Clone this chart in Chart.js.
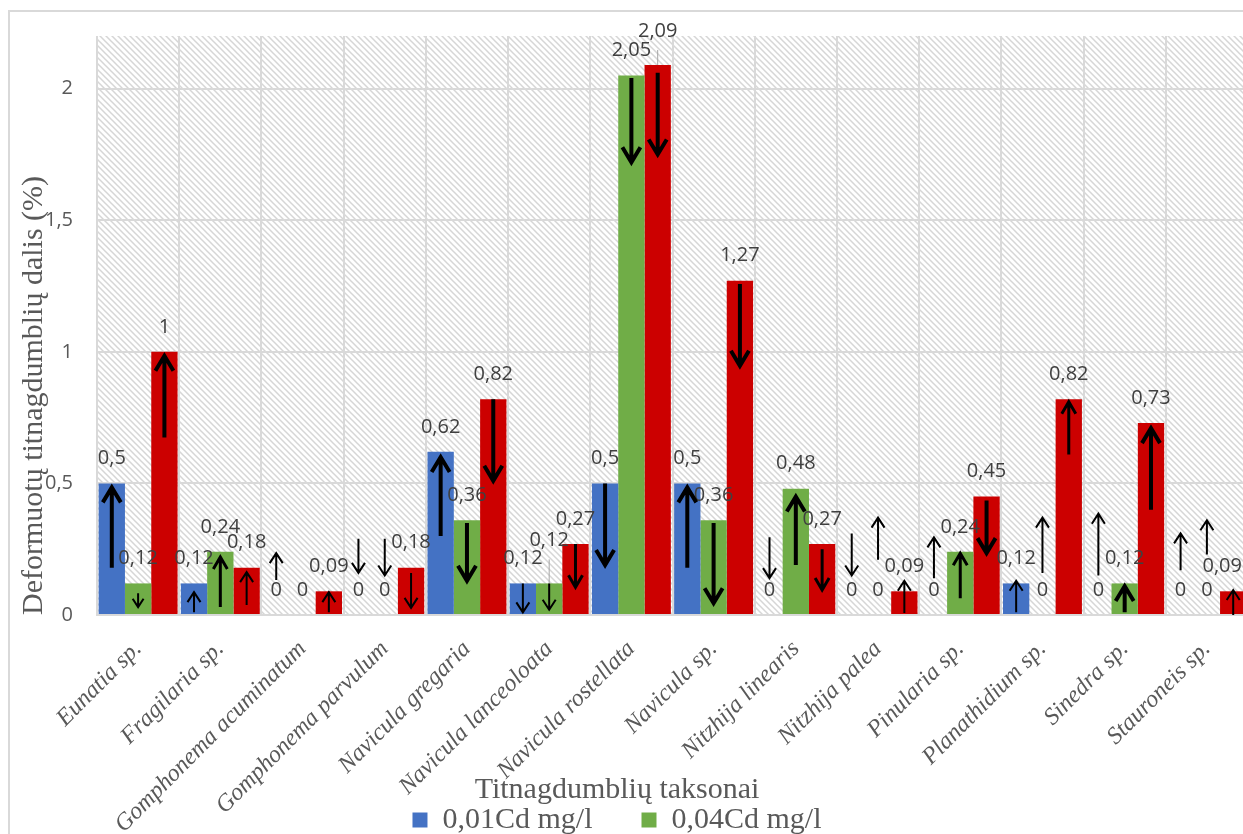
<!DOCTYPE html>
<html>
<head>
<meta charset="utf-8">
<script src="https://cdn.jsdelivr.net/npm/chart.js@4.4.0/dist/chart.umd.min.js"></script>
<style>
  html, body { margin: 0; padding: 0; width: 1243px; height: 834px; overflow: hidden; background: #fff; }
  #frame { position: absolute; left: 8px; top: 10px; width: 1260px; height: 880px; border: 2px solid #d9d9d9; box-sizing: border-box; }
  #wrap { position: absolute; left: -14px; top: 0; width: 1262px; height: 845px; }
</style>
</head>
<body>
<div id="frame"></div>
<div id="wrap"><canvas id="myChart"></canvas></div>
<script>
var taxa = ['Eunatia sp.', 'Fragilaria sp.', 'Gomphonema acuminatum', 'Gomphonema parvulum',
  'Navicula gregaria', 'Navicula lanceoloata', 'Navicula rostellata', 'Navicula sp.',
  'Nitzhija linearis', 'Nitzhija palea', 'Pinularia sp.', 'Planathidium sp.', 'Sinedra sp.', 'Stauroneis sp.'];

// deformed share (%) per Cd concentration
var cd001 = [0.5, 0.12, 0, 0, 0.62, 0.12, 0.5, 0.5, 0, 0, 0, 0.12, 0, 0];
var cd004 = [0.12, 0.24, 0, 0, 0.36, 0.12, 2.05, 0.36, 0.48, 0, 0.24, 0, 0.12, 0];
var cd010 = [1, 0.18, 0.09, 0.18, 0.82, 0.27, 2.09, 1.27, 0.27, 0.09, 0.45, 0.82, 0.73, 0.09];

var yMax = 2.2;
var yStep = 0.5;

// trend arrows: [taxon, series, from, to, weight]
var arrows = [
  [0, 0, 0.18, 0.485, 'L'], [0, 1, 0.083, 0.03, 'S'], [0, 2, 0.674, 0.985, 'L'],
  [1, 0, 0.01, 0.087, 'S'], [1, 1, 0.03, 0.22, 'M'], [1, 2, 0.038, 0.163, 'S'],
  [2, 0, 0.133, 0.235, 'S'], [2, 2, 0.01, 0.087, 'S'],
  [3, 0, 0.29, 0.16, 'S'], [3, 1, 0.29, 0.15, 'S'], [3, 2, 0.16, 0.027, 'S'],
  [4, 0, 0.30, 0.60, 'L'], [4, 1, 0.35, 0.13, 'L'], [4, 2, 0.82, 0.51, 'L'],
  [5, 0, 0.12, 0.01, 'S'], [5, 1, 0.12, 0.02, 'S'], [5, 2, 0.27, 0.105, 'M'],
  [6, 0, 0.5, 0.19, 'L'], [6, 1, 2.04, 1.72, 'L'], [6, 2, 2.06, 1.75, 'L'],
  [7, 0, 0.18, 0.485, 'L'], [7, 1, 0.35, 0.045, 'L'], [7, 2, 1.258, 0.947, 'L'],
  [8, 0, 0.295, 0.14, 'S'], [8, 1, 0.19, 0.45, 'L'], [8, 2, 0.25, 0.095, 'M'],
  [9, 0, 0.31, 0.15, 'S'], [9, 1, 0.21, 0.37, 'S'], [9, 2, 0.008, 0.13, 'S'],
  [10, 0, 0.14, 0.295, 'S'], [10, 1, 0.064, 0.235, 'M'], [10, 2, 0.435, 0.235, 'L'],
  [11, 0, 0.01, 0.13, 'S'], [11, 1, 0.16, 0.37, 'S'], [11, 2, 0.61, 0.81, 'M'],
  [12, 0, 0.15, 0.385, 'S'], [12, 1, 0.01, 0.11, 'L'], [12, 2, 0.40, 0.71, 'L'],
  [13, 0, 0.17, 0.31, 'S'], [13, 1, 0.23, 0.36, 'S'], [13, 2, 0.0, 0.095, 'S']
];

var arrowWeights = {
  L: { lw: 4, head: 15, half: 9 },
  M: { lw: 3, head: 12, half: 7 },
  S: { lw: 2, head: 10, half: 6.5 }
};

// labels moved off their default spot: [taxon, series, lift px, shift px]
var movedLabels = [[5, 1, 18, 0], [6, 2, 9, 0], [13, 2, 0, -11]];

function fmt(v) {
  return String(v).replace('.', ',');
}

// diagonal hatch for the plot area
var hatch = (function () {
  var c = document.createElement('canvas');
  c.width = 6; c.height = 6;
  var g = c.getContext('2d');
  g.strokeStyle = '#d6d6d6';
  g.lineWidth = 1.5;
  g.beginPath();
  g.moveTo(-1, -1); g.lineTo(7, 7);
  g.moveTo(-1, 5); g.lineTo(1, 7);
  g.moveTo(5, -1); g.lineTo(7, 1);
  g.stroke();
  return c;
})();

var plotBackground = {
  id: 'plotBackground',
  beforeDraw: function (chart) {
    var a = chart.chartArea, ctx = chart.ctx;
    ctx.save();
    ctx.fillStyle = ctx.createPattern(hatch, 'repeat');
    ctx.fillRect(a.left, a.top, a.right - a.left, a.bottom - a.top);
    ctx.restore();
  }
};

// the x scale box is kept short so the axis title can sit between the
// slanted names; let the names run on past it when they are drawn
var longTickNames = {
  id: 'longTickNames',
  afterLayout: function (chart) {
    chart.scales.x.bottom = chart.height;
  }
};

var barLabels = {
  id: 'barLabels',
  afterDatasetsDraw: function (chart) {
    var ctx = chart.ctx;
    ctx.save();
    ctx.font = '20px "Open Sans"';
    ctx.textAlign = 'center';
    ctx.textBaseline = 'middle';
    chart.data.datasets.forEach(function (ds, j) {
      chart.getDatasetMeta(j).data.forEach(function (bar, i) {
        var lift = 0, shift = 0;
        movedLabels.forEach(function (m) {
          if (m[0] === i && m[1] === j) { lift = m[2]; shift = m[3]; }
        });
        if (lift) {
          ctx.strokeStyle = '#a6a6a6';
          ctx.lineWidth = 1;
          ctx.beginPath();
          ctx.moveTo(bar.x, bar.y);
          ctx.lineTo(bar.x, bar.y - lift - 6);
          ctx.stroke();
        }
        ctx.fillStyle = '#404040';
        ctx.fillText(fmt(ds.data[i]), bar.x + shift, bar.y - 25 - lift);
      });
    });
    ctx.restore();
  }
};

var trendArrows = {
  id: 'trendArrows',
  afterDatasetsDraw: function (chart) {
    var ctx = chart.ctx, y = chart.scales.y;
    ctx.save();
    ctx.strokeStyle = '#000';
    ctx.lineJoin = 'miter';
    ctx.lineCap = 'butt';
    arrows.forEach(function (a) {
      var bar = chart.getDatasetMeta(a[1]).data[a[0]];
      var w = arrowWeights[a[4]];
      var x = bar.x, y0 = y.getPixelForValue(a[2]), y1 = y.getPixelForValue(a[3]);
      var dir = y1 < y0 ? -1 : 1;
      var len = Math.abs(y1 - y0);
      var hl = Math.min(w.head, len * 0.6);
      var hw = w.half * hl / w.head;
      ctx.lineWidth = w.lw;
      ctx.beginPath();
      ctx.moveTo(x, y0);
      ctx.lineTo(x, y1 - dir * w.lw * 0.5);
      ctx.moveTo(x - hw, y1 - dir * hl);
      ctx.lineTo(x, y1);
      ctx.lineTo(x + hw, y1 - dir * hl);
      ctx.stroke();
    });
    ctx.restore();
  }
};

var ctx = document.getElementById('myChart').getContext('2d');
var chart = new Chart(ctx, {
  type: 'bar',
  data: {
    labels: taxa,
    datasets: [{
      label: '0,01Cd mg/l',
      backgroundColor: '#4472c4',
      data: cd001
    }, {
      label: '0,04Cd mg/l',
      backgroundColor: '#70ad47',
      data: cd004
    }, {
      label: '0,1Cd mg/l',
      backgroundColor: '#cc0000',
      data: cd010
    }]
  },
  options: {
    responsive: true,
    maintainAspectRatio: false,
    animation: false,
    layout: { padding: { top: 34, left: 0, right: 0, bottom: 0 } },
    datasets: {
      bar: { categoryPercentage: 0.96, barPercentage: 1 }
    },
    scales: {
      x: {
        grid: { color: '#d9d9d9', lineWidth: 2, offset: true, drawTicks: false },
        border: { color: '#d9d9d9', width: 2 },
        ticks: {
          autoSkip: false,
          minRotation: 45,
          maxRotation: 45,
          padding: 20,
          color: '#595959',
          font: { family: 'Liberation Serif', style: 'italic', size: 24 }
        },
        afterFit: function (s) { s.height = 141; }
      },
      y: {
        min: 0,
        max: yMax,
        grid: { color: '#d9d9d9', lineWidth: 2, drawTicks: false },
        border: { display: false },
        ticks: {
          stepSize: yStep,
          includeBounds: false,
          padding: 24,
          color: '#595959',
          font: { family: 'Open Sans', size: 20 },
          callback: function (v) { return fmt(v); }
        },
        title: {
          display: true,
          text: 'Deformuotų titnagdumblių dalis (%)',
          align: 'start',
          color: '#595959',
          font: { family: 'Liberation Serif', size: 30 },
          padding: { top: 30, bottom: 0 }
        },
        afterFit: function (s) { s.width = 111; }
      }
    },
    plugins: {
      title: {
        display: true,
        position: 'bottom',
        weight: 500,
        text: 'Titnagdumblių taksonai',
        color: '#595959',
        font: { family: 'Liberation Serif', size: 30, weight: 'normal', lineHeight: 1.2 },
        padding: { top: 16, bottom: -52 }
      },
      legend: {
        position: 'bottom',
        labels: {
          boxWidth: 15,
          boxHeight: 15,
          padding: 49,
          color: '#595959',
          font: { family: 'Liberation Serif', size: 30 },
          filter: function (item) { return item.datasetIndex < 2; }
        }
      },
      tooltip: { enabled: false }
    }
  },
  plugins: [plotBackground, longTickNames, barLabels, trendArrows]
});
</script>
</body>
</html>
